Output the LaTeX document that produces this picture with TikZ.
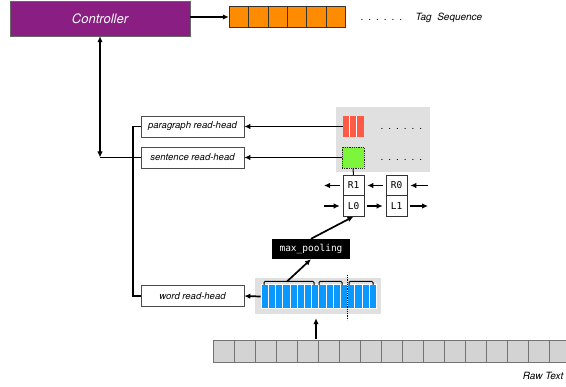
\documentclass[tikz,border=0pt]{standalone}
\usepackage{fontspec}
\setmainfont{TeX Gyre Heros}
\setmonofont{DejaVu Sans Mono}
\usetikzlibrary{arrows.meta}
\definecolor{ctrlpurple}{HTML}{8A1E82}
\definecolor{tagorange}{HTML}{FF8C00}
\definecolor{parared}{HTML}{FF5A45}
\definecolor{sentgreen}{HTML}{7CF53A}
\definecolor{wordblue}{HTML}{0A98FF}
\definecolor{panelgray}{HTML}{E0E0E0}
\definecolor{rawgray}{HTML}{D3D3D3}
\newcommand{\dotrow}{.\hspace{5pt}.\hspace{5pt}.\hspace{5pt}.\hspace{5pt}.\hspace{5pt}.}

\begin{document}
\begin{tikzpicture}[x=1pt,y=-1pt,>={Latex[length=6pt,width=5.5pt]},
	link/.style={line width=1.7pt},
	head/.style={draw=black!70,line width=0.6pt,minimum width=103pt,minimum height=21pt,inner sep=0pt,font=\fontsize{9.5}{11}\selectfont\itshape},
	lstm/.style={draw=black!80,line width=0.6pt,minimum width=21pt,minimum height=20.5pt,inner sep=0pt,font=\fontsize{9.5}{11}\selectfont\ttfamily},
	cell/.style={minimum height=#1,inner sep=0pt}]
\useasboundingbox (0,0) rectangle (566,387);

\node[fill=ctrlpurple,draw=black!60,minimum width=180pt,minimum height=35pt,text=white,font=\fontsize{13}{15}\selectfont\itshape] (ctrl) at (100,18.5) {Controller}; % controller
\foreach \i in {1,...,6}
	\node[cell=21pt,draw=black!80,fill=tagorange,minimum width=19.4pt] (tag\i) at ({229+19.4*(\i-0.5)},17) {}; % tag tape
\node[anchor=base west,font=\fontsize{10}{12}\selectfont] (tagdots) at (357,20.5) {\dotrow};
\node[anchor=base west,font=\fontsize{10}{12}\selectfont\itshape] (tagseq) at (412,20.5) {Tag\ \ Sequence};
\draw[link,->] (ctrl.east |- tag1.west) -- (tag1.west);

\node[head] (para) at (192.5,126.5) {paragraph read-head};
\node[head] (sent) at (192.5,157.5) {sentence read-head};
\node[head] (word) at (192.5,296) {word read-head};

\coordinate (jn) at (100,157.5);
\draw[link,<->] (ctrl.south) -- (jn); % controller link
\draw[link] (jn) -- (sent.west);
\draw[link] (para.west) -- ++(-8,0) |- (word.west);

% sentence / paragraph memory
\node[cell=65pt,fill=panelgray,minimum width=94pt] (memory) at (383,139.5) {};
\node[cell=21pt,fill=parared,minimum width=21pt] (parablk) at (353.5,126.5) {};
\draw[white,line width=0.8pt] ([xshift=7pt]parablk.north west) -- ([xshift=7pt]parablk.south west);
\draw[white,line width=0.8pt] ([xshift=14pt]parablk.north west) -- ([xshift=14pt]parablk.south west);
\node[cell=21pt,fill=sentgreen,draw=black!85,densely dotted,line width=0.8pt,minimum width=22pt] (sentblk) at (353,157.5) {};
\node[anchor=base west,font=\fontsize{10}{12}\selectfont] (paradots) at (377,129.5) {\dotrow};
\node[anchor=base west,font=\fontsize{10}{12}\selectfont] (sentdots) at (377,160.5) {\dotrow};
\draw[link,->] (parablk) -- (para);
\draw[link,->] (sentblk) -- (sent);

% lstm cells
\node[lstm] (R1) at (353.5,185.5) {R1};
\node[lstm] (R0) at (396.5,185.5) {R0};
\node[lstm] (L0) at (353.5,206) {L0};
\node[lstm] (L1) at (396.5,206) {L1};
\draw[line width=1pt] (sentblk.south) -- (R1.north);
\coordinate (rout) at (324,185.5);
\coordinate (rin) at (428,185.5);
\coordinate (lin) at (324,206);
\coordinate (lout) at (428,206);
\draw[link,->,shorten <=3pt] (R1) -- (rout);
\draw[link,->,shorten <=3pt,shorten >=3pt] (R0) -- (R1);
\draw[link,->,shorten >=3pt] (rin) -- (R0);
\draw[link,->,shorten >=3pt] (lin) -- (L0);
\draw[link,->,shorten <=3pt,shorten >=3pt] (L0) -- (L1);
\draw[link,->,shorten <=3pt] (L1) -- (lout);

\node[cell=20pt,fill=black,text=white,minimum width=78pt,font=\fontsize{9.5}{11}\selectfont\ttfamily] (pool) at (311,249) {max\_pooling};
\draw[link,->] (pool.north) -- (L0.south);

% word memory
\node[cell=36pt,fill=panelgray,minimum width=126pt] (wordmem) at (318,296) {};
\foreach \i in {1,...,16}
	\node[cell=24pt,fill=wordblue,draw=white,line width=0.6pt,minimum width=7.2pt] (w\i) at ({261+7.2*(\i-0.5)},296.5) {};
\draw[line width=1pt,rounded corners=1pt] (264,285) -- (264,281.5) -- (314,281.5) -- (314,285);
\draw[line width=1pt,rounded corners=1pt] (319,285) -- (319,281.5) -- (342,281.5) -- (342,285);
\draw[line width=1pt,rounded corners=1pt] (349,285) -- (349,281.5) -- (373,281.5) -- (373,285);
\draw[densely dotted,line width=0.8pt] (347,275) -- (347,320);
\coordinate (brk) at (287,281.5);
\draw[link,->] (brk) -- (pool.south);
\draw[link,->] (w1.west) -- (word.east);

% raw text
\foreach \i in {1,...,17}
	\node[cell=22pt,fill=rawgray,draw=black!55,line width=0.6pt,minimum width=21pt] (raw\i) at ({213+21*(\i-0.5)},351) {};
\coordinate (rawin) at (316,339);
\draw[link,->,shorten >=4pt] (rawin) -- (rawin |- wordmem.south);
\node[anchor=base east,font=\fontsize{10}{12}\selectfont\itshape] (rawlabel) at (567,380) {Raw Text};
\end{tikzpicture}
\end{document}
